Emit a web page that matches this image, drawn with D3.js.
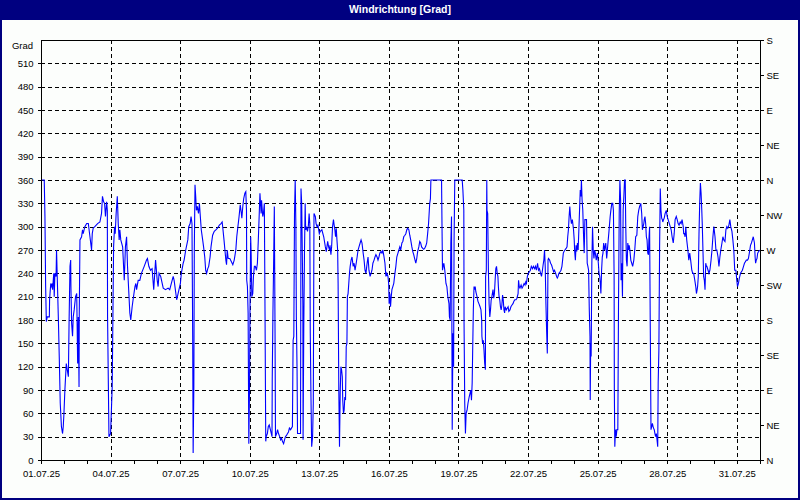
<!DOCTYPE html>
<html>
<head>
<meta charset="utf-8">
<script src="https://cdn.jsdelivr.net/npm/d3@7"></script>
<style>
  html, body { margin: 0; padding: 0; background: #fcfefc; }
  svg { display: block; }
  text { font-family: "Liberation Sans", Arial, sans-serif; }
</style>
</head>
<body>
<svg id="chart" width="800" height="500"></svg>
<script>
// ---------- data ----------
const chartTitle = "Windrichtung [Grad]";
const yUnitLabel = "Grad";
const yTickValues = [0, 30, 60, 90, 120, 150, 180, 210, 240, 270, 300, 330, 360, 390, 420, 450, 480, 510];
const compassValues = [0, 45, 90, 135, 180, 225, 270, 315, 360, 405, 450, 495, 540];
const compassLabels = ["N", "NE", "E", "SE", "S", "SW", "W", "NW", "N", "NE", "E", "SE", "S"];
const xTickLabels = ["01.07.25", "04.07.25", "07.07.25", "10.07.25", "13.07.25", "16.07.25",
                     "19.07.25", "22.07.25", "25.07.25", "28.07.25", "31.07.25"];
const periodStart = "01.07.25";
const periodEnd = "01.08.25";

// [days since 01.07.25 00:00, wind direction in degrees]
const readingsWeek1 = [
[0.00,360],[0.14,360],[0.17,313],[0.20,223],[0.23,178],[0.27,184],[0.36,184],[0.37,206],[0.42,227],[0.46,223],
[0.49,227],[0.50,219],[0.55,240],[0.57,210],[0.60,240],[0.65,236],[0.67,270],[0.70,236],[0.75,180],[0.79,129],
[0.83,73],[0.88,43],[0.93,34],[0.96,43],[0.99,60],[1.03,90],[1.09,124],[1.13,116],[1.18,107],[1.21,176],
[1.25,249],[1.28,257],[1.29,223],[1.32,176],[1.36,159],[1.39,184],[1.43,193],[1.49,210],[1.54,214],[1.58,124],
[1.61,184],[1.64,94],[1.65,189],[1.68,283],[1.75,287],[1.79,296],[1.82,291],[1.89,300],[1.97,304],[2.04,304],
[2.11,287],[2.18,270],[2.21,291],[2.25,298],[2.32,300],[2.44,304],[2.54,306],[2.61,317],[2.65,339],[2.70,332],
[2.74,330],[2.78,313],[2.83,332],[2.86,321],[2.87,184],[2.93,30],[3.00,34],[3.07,94],[3.13,274],[3.17,300],
[3.20,291],[3.24,317],[3.29,339],[3.33,304],[3.37,283],[3.40,296],[3.44,283],[3.52,274],[3.59,231],[3.64,274],
[3.69,287],[3.73,249],[3.83,189],[3.87,180],[3.93,197],[3.97,206],[4.05,223],[4.09,227],[4.12,219],[4.19,231],
[4.26,231],[4.33,240],[4.45,249],[4.55,257],[4.59,259],[4.65,249],[4.72,244],[4.79,246],[4.86,219],[4.94,257],
[5.01,231],[5.05,223],[5.09,240],[5.16,236],[5.27,221],[5.37,219],[5.48,221],[5.55,219],[5.62,227],[5.70,236],
[5.74,231],[5.85,206],[5.91,214],[6.01,227],[6.05,240],[6.13,253],[6.17,257],[6.24,270]
];
const readingsWeek2 = [
[6.33,283],[6.37,300],[6.43,304],[6.47,313],[6.51,304],[6.54,159],[6.56,9],[6.59,94],[6.61,270],[6.64,354],
[6.67,339],[6.70,321],[6.74,326],[6.79,317],[6.83,330],[6.87,313],[6.91,296],[6.97,283],[7.01,274],[7.06,261],
[7.10,244],[7.14,240],[7.19,246],[7.23,249],[7.29,261],[7.33,274],[7.40,289],[7.47,294],[7.54,296],[7.61,298],
[7.69,302],[7.76,304],[7.81,306],[7.84,298],[7.89,283],[7.93,270],[7.97,257],[8.00,251],[8.03,270],[8.07,259],
[8.14,259],[8.21,255],[8.27,251],[8.33,257],[8.40,270],[8.44,287],[8.49,300],[8.54,313],[8.59,328],[8.63,319],
[8.66,311],[8.70,326],[8.74,336],[8.79,343],[8.83,345],[8.86,321],[8.87,231],[8.90,223],[8.93,189],[8.96,21],
[8.99,90],[9.01,189],[9.04,287],[9.06,266],[9.09,210],[9.13,214],[9.16,236],[9.20,249],[9.24,249],[9.29,244],
[9.33,253],[9.37,283],[9.41,317],[9.44,343],[9.49,317],[9.51,334],[9.56,313],[9.59,317],[9.63,330],[9.66,184],
[9.69,24],[9.71,30],[9.76,34],[9.80,43],[9.84,45],[9.89,39],[9.93,34],[9.96,30],[9.97,103],[10.00,189],
[10.03,253],[10.06,326],[10.09,167],[10.11,30],[10.16,34],[10.20,39],[10.24,34],[10.29,30],[10.33,26],[10.37,28],
[10.41,24],[10.46,21],[10.50,26],[10.54,30],[10.59,32],[10.63,34],[10.67,36],[10.71,41],[10.76,39],[10.80,41],
[10.84,43],[10.87,154],[10.90,159],[10.93,317],[10.96,360],[10.99,300],[11.01,184],[11.04,116],[11.06,34],[11.14,34],
[11.19,34],[11.21,349],[11.24,330],[11.27,257],[11.29,201],[11.30,26],[11.33,171],[11.36,266],[11.39,330],[11.41,296],
[11.44,300],[11.49,294],[11.53,302],[11.56,317],[11.59,304],[11.61,163],[11.64,81],[11.67,17],[11.71,30],[11.74,73],
[11.77,317],[11.80,315],[11.83,313],[11.86,304],[11.90,300],[11.94,302],[12.00,291],[12.04,294],[12.11,296],[12.19,287],
[12.26,274],[12.30,268],[12.36,281],[12.40,274],[12.44,270]
];
const readingsWeek3 = [
[12.46,276],[12.50,264],[12.53,274],[12.57,300],[12.61,309],[12.64,302],[12.67,296],[12.70,287],[12.73,298],[12.76,283],
[12.79,270],[12.81,227],[12.84,90],[12.87,17],[12.90,86],[12.93,120],[12.96,116],[12.99,107],[13.01,77],[13.04,60],
[13.07,64],[13.10,81],[13.13,77],[13.16,146],[13.19,150],[13.21,210],[13.24,214],[13.27,227],[13.30,240],[13.33,249],
[13.37,257],[13.41,261],[13.46,249],[13.50,253],[13.54,244],[13.59,253],[13.63,261],[13.67,270],[13.71,274],[13.76,279],
[13.80,283],[13.84,279],[13.89,266],[13.93,257],[13.97,244],[14.01,240],[14.06,253],[14.10,261],[14.14,244],[14.19,236],
[14.23,240],[14.27,244],[14.31,253],[14.36,257],[14.40,261],[14.44,264],[14.49,261],[14.53,257],[14.57,261],[14.61,266],
[14.66,268],[14.70,266],[14.74,270],[14.79,261],[14.83,253],[14.87,236],[14.91,240],[14.96,236],[14.99,227],[15.01,201],
[15.04,214],[15.07,197],[15.10,210],[15.13,219],[15.17,223],[15.21,227],[15.26,240],[15.30,249],[15.34,261],[15.39,266],
[15.43,270],[15.47,274],[15.51,270],[15.56,279],[15.60,281],[15.64,287],[15.69,289],[15.73,291],[15.77,296],[15.81,298],
[15.86,296],[15.90,289],[15.94,283],[15.99,274],[16.03,268],[16.07,264],[16.11,259],[16.16,253],[16.20,259],[16.24,268],
[16.29,274],[16.33,281],[16.37,279],[16.41,274],[16.46,272],[16.50,271],[16.54,272],[16.59,275],[16.63,279],[16.67,291],
[16.71,304],[16.76,330],[16.79,336],[16.81,360],[17.27,360],[17.29,300],[17.31,244],[17.34,249],[17.37,253],[17.41,244],
[17.46,227],[17.50,223],[17.54,210],[17.59,201],[17.61,184],[17.64,180],[17.67,279],[17.70,313],[17.73,39],[17.76,163],
[17.79,120],[17.81,283],[17.84,360],[18.16,360],[18.19,347],[18.23,321],[18.24,176],[18.27,73],[18.30,34],[18.33,60],
[18.37,64],[18.41,73],[18.46,81],[18.50,86],[18.53,90],[18.56,77],[18.59,99],[18.61,137],[18.64,193]
];
const readingsWeek4 = [
[18.67,223],[18.70,219],[18.72,223],[18.75,216],[18.80,210],[18.84,204],[18.88,201],[18.93,197],[18.97,193],[19.00,180],
[19.01,159],[19.04,150],[19.07,154],[19.10,141],[19.13,124],[19.16,116],[19.17,236],[19.20,244],[19.22,360],[19.23,321],
[19.26,317],[19.29,244],[19.32,201],[19.35,184],[19.38,193],[19.41,206],[19.43,208],[19.46,214],[19.49,219],[19.52,208],
[19.55,214],[19.58,231],[19.61,246],[19.64,249],[19.67,240],[19.70,236],[19.72,223],[19.75,210],[19.78,206],[19.81,197],
[19.84,193],[19.87,199],[19.90,212],[19.93,206],[19.96,193],[19.99,189],[20.01,197],[20.06,193],[20.10,195],[20.14,197],
[20.17,191],[20.22,193],[20.26,197],[20.30,199],[20.35,201],[20.39,204],[20.43,206],[20.48,206],[20.52,208],[20.57,214],
[20.59,231],[20.62,223],[20.65,221],[20.70,225],[20.74,221],[20.78,223],[20.83,227],[20.87,225],[20.90,229],[20.93,227],
[20.97,236],[21.01,240],[21.06,242],[21.10,244],[21.14,249],[21.19,246],[21.23,249],[21.28,246],[21.32,249],[21.36,244],
[21.41,253],[21.45,244],[21.49,246],[21.54,240],[21.58,236],[21.62,244],[21.65,251],[21.68,257],[21.71,270],[21.74,249],
[21.77,201],[21.80,167],[21.83,137],[21.86,257],[21.88,259],[21.93,257],[21.97,253],[22.01,251],[22.06,246],[22.10,242],
[22.14,244],[22.19,240],[22.23,236],[22.26,234],[22.29,236],[22.33,240],[22.38,242],[22.42,244],[22.46,249],[22.49,257],
[22.52,266],[22.55,268],[22.59,270],[22.64,272],[22.68,274],[22.71,287],[22.74,296],[22.77,313],[22.80,326],[22.83,313],
[22.87,304],[22.91,309],[22.96,296],[22.99,283],[23.01,268],[23.04,257],[23.07,276],[23.10,268],[23.13,279],[23.16,270],
[23.19,296],[23.22,321],[23.25,347],[23.28,339],[23.30,360],[23.33,334],[23.36,321],[23.39,291],[23.42,266],[23.45,309],
[23.48,309],[23.52,309],[23.55,253],[23.58,249],[23.61,244],[23.64,193],[23.67,159],[23.68,77],[23.70,150],[23.72,133],
[23.75,253],[23.78,300],[23.81,270],[23.84,259],[23.87,270],[23.90,266],[23.94,257],[23.99,266],[24.03,253],[24.06,240],
[24.09,236],[24.12,225],[24.14,214],[24.17,244],[24.20,261],[24.23,266],[24.26,279],[24.30,270],[24.35,279],[24.39,259],
[24.42,270],[24.45,281],[24.48,291],[24.51,302],[24.54,313],[24.57,321],[24.61,330],[24.65,330],[24.68,321],[24.71,236],
[24.72,90]
];
const readingsWeek5 = [
[24.74,17],[24.77,39],[24.80,30],[24.83,39],[24.87,39],[24.90,201],[24.93,317],[24.96,360],[24.99,334],[25.01,231],
[25.04,253],[25.07,210],[25.10,321],[25.13,339],[25.16,360],[25.19,360],[25.21,304],[25.24,257],[25.27,249],[25.30,279],
[25.33,270],[25.36,276],[25.39,270],[25.43,257],[25.47,253],[25.51,249],[25.56,257],[25.60,270],[25.64,287],[25.69,289],
[25.73,313],[25.77,321],[25.81,326],[25.86,330],[25.90,317],[25.93,296],[25.96,300],[25.99,304],[26.01,309],[26.04,313],
[26.07,304],[26.10,287],[26.13,283],[26.16,266],[26.19,264],[26.21,283],[26.24,300],[26.27,167],[26.30,39],[26.33,43],
[26.36,47],[26.39,43],[26.41,41],[26.44,39],[26.47,34],[26.50,30],[26.53,34],[26.56,26],[26.59,17],[26.61,99],
[26.64,141],[26.67,270],[26.70,349],[26.73,321],[26.76,311],[26.79,309],[26.81,306],[26.84,309],[26.87,311],[26.91,317],
[26.96,321],[27.00,313],[27.04,309],[27.09,304],[27.13,300],[27.17,296],[27.21,287],[27.26,279],[27.30,291],[27.34,309],
[27.39,313],[27.43,309],[27.47,304],[27.51,302],[27.56,306],[27.60,304],[27.64,309],[27.69,300],[27.71,291],[27.74,291],
[27.77,287],[27.80,300],[27.84,283],[27.89,270],[27.93,257],[27.97,266],[28.01,257],[28.06,244],[28.10,240],[28.14,240],
[28.19,231],[28.23,223],[28.26,214],[28.29,219],[28.31,223],[28.34,236],[28.37,291],[28.40,330],[28.43,356],[28.46,343],
[28.49,321],[28.51,304],[28.54,270],[28.57,236],[28.60,231],[28.63,219],[28.66,253],[28.69,249],[28.71,249],[28.76,244],
[28.80,240],[28.84,244],[28.89,257],[28.93,270],[28.97,287],[29.01,300],[29.06,287],[29.10,270],[29.14,270],[29.19,261],
[29.23,249],[29.27,261],[29.31,270],[29.36,279],[29.40,287],[29.44,283],[29.49,281],[29.53,296],[29.57,300],[29.61,298],
[29.66,302],[29.70,309],[29.74,300],[29.79,294],[29.83,283],[29.87,270],[29.91,244],[29.96,244],[30.00,231],[30.03,223],
[30.07,227],[30.11,234],[30.16,240],[30.20,242],[30.24,244],[30.29,249],[30.33,253],[30.37,255],[30.41,257],[30.46,257],
[30.50,259],[30.54,266],[30.59,276],[30.63,279],[30.67,283],[30.71,287],[30.76,279],[30.79,261],[30.81,253],[30.84,257],
[30.87,259],[30.90,266],[30.94,268],[30.99,270]
];

// ---------- drawing ----------
const W = 800, H = 500;
const plot = { left: 41, right: 760, top: 40, bottom: 460 };
const navy = "#000080";
const parseDate = d3.timeParse("%d.%m.%y");
const fmtDate = d3.timeFormat("%d.%m.%y");
const t0 = parseDate(periodStart), t1 = parseDate(periodEnd);

const readings = [].concat(readingsWeek1, readingsWeek2, readingsWeek3, readingsWeek4, readingsWeek5)
  .map(([d, v]) => ({ t: new Date(t0.getTime() + d * 864e5), v }));

const x = d3.scaleTime().domain([t0, t1]).range([plot.left, plot.right]);
const y = d3.scaleLinear().domain([0, 540]).range([plot.bottom, plot.top]);

const svg = d3.select("#chart");

svg.append("rect").attr("x", 0).attr("y", 0).attr("width", W).attr("height", H).attr("fill", "#fcfefc");

// title bar
svg.append("rect").attr("x", 0).attr("y", 0).attr("width", W).attr("height", 20).attr("fill", navy);
svg.append("text").attr("x", W / 2).attr("y", 13)
  .attr("text-anchor", "middle").attr("fill", "#ffffff")
  .attr("font-size", "10.5px").attr("font-weight", "bold")
  .text(chartTitle);

// window border
svg.append("rect").attr("x", 1).attr("y", 1).attr("width", W - 2).attr("height", H - 2)
  .attr("fill", "none").attr("stroke", navy).attr("stroke-width", 2);

// grid
const grid = svg.append("g").attr("shape-rendering", "crispEdges")
  .attr("stroke", "#000").attr("stroke-width", 1).attr("stroke-dasharray", "4,3");
grid.selectAll("line.h").data(yTickValues.filter(v => v > 0)).join("line")
  .attr("x1", plot.left).attr("x2", plot.right)
  .attr("y1", d => Math.round(y(d)) + 0.5).attr("y2", d => Math.round(y(d)) + 0.5);
const majorDates = xTickLabels.map(parseDate);
grid.selectAll("line.v").data(majorDates.slice(1)).join("line")
  .attr("x1", d => Math.round(x(d)) + 0.5).attr("x2", d => Math.round(x(d)) + 0.5)
  .attr("y1", plot.top).attr("y2", plot.bottom);

// data line
const line = d3.line().x(d => x(d.t)).y(d => y(d.v));
svg.append("path").datum(readings)
  .attr("d", line).attr("fill", "none")
  .attr("stroke", "#0000ff").attr("stroke-width", 1.1)
  .attr("stroke-linejoin", "miter");

// axes
function styleAxis(g) {
  g.select(".domain").remove();
  g.selectAll(".tick line").attr("stroke", "#000").attr("shape-rendering", "crispEdges");
  g.selectAll(".tick text").attr("fill", "#000").attr("font-size", "9.5px")
    .attr("font-family", "'Liberation Sans', Arial, sans-serif");
}

svg.append("g").attr("transform", `translate(${plot.left + 0.5},0)`)
  .call(d3.axisLeft(y).tickValues(yTickValues).tickSize(4).tickPadding(4).tickFormat(d3.format("d")))
  .call(styleAxis);

svg.append("g").attr("transform", `translate(${plot.right + 0.5},0)`)
  .call(d3.axisRight(y).tickValues(compassValues).tickSize(3).tickPadding(3)
    .tickFormat((d, i) => compassLabels[i]))
  .call(styleAxis);

// minor day ticks
svg.append("g").attr("transform", `translate(0,${plot.bottom + 0.5})`)
  .call(d3.axisBottom(x).ticks(d3.timeDay.every(1)).tickSize(3).tickFormat(""))
  .call(styleAxis);

svg.append("g").attr("transform", `translate(0,${plot.bottom + 0.5})`)
  .call(d3.axisBottom(x).tickValues(majorDates).tickSize(3).tickPadding(7).tickFormat(fmtDate))
  .call(styleAxis);

// unit label
svg.append("text").attr("x", 33).attr("y", 49).attr("text-anchor", "end")
  .attr("font-size", "9.5px").attr("fill", "#000").text(yUnitLabel);

// plot frame
svg.append("rect").attr("x", plot.left + 0.5).attr("y", plot.top + 0.5)
  .attr("width", plot.right - plot.left).attr("height", plot.bottom - plot.top)
  .attr("fill", "none").attr("stroke", "#000").attr("shape-rendering", "crispEdges");
</script>
</body>
</html>
